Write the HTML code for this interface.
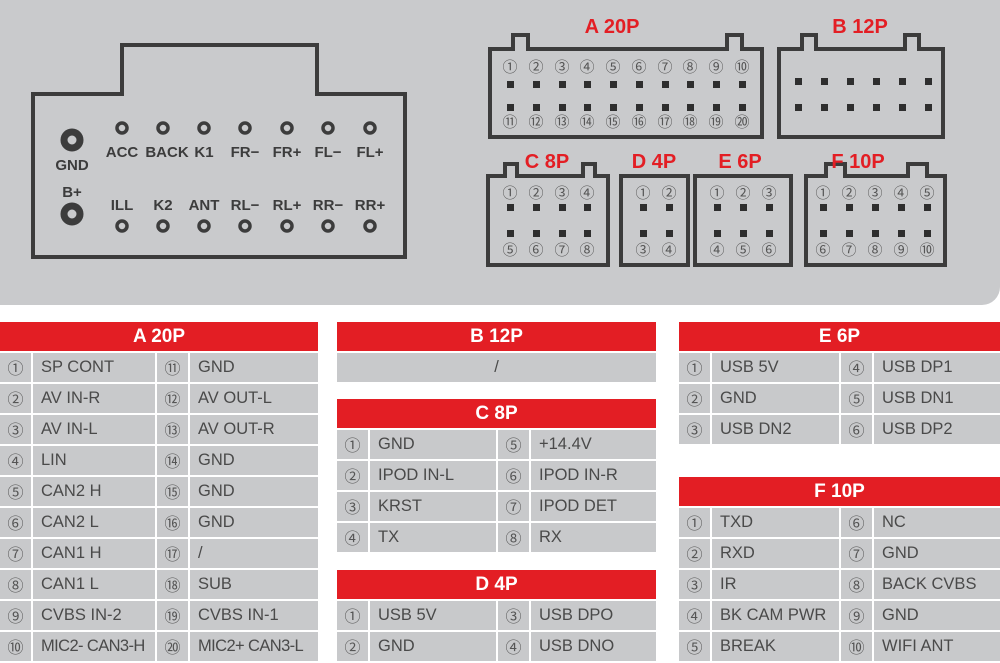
<!DOCTYPE html>
<html><head><meta charset="utf-8"><style>
body{margin:0;width:1000px;height:663px;background:#fff;position:relative;overflow:hidden;font-family:"Liberation Sans","Noto Sans CJK SC",sans-serif}
.t{position:absolute}
.h{background:#e31e24;color:#fff;font-weight:bold;font-size:19px;height:29px;line-height:30px;text-align:center}
.g{display:grid;gap:2px;margin-top:2px}
.g div{background:#c8c9cb;color:#4a4a4a;font-size:16.5px;height:29px;line-height:29px;padding-left:8px;white-space:nowrap;overflow:hidden}
.g div.n{padding-left:0;text-align:center;font-size:16px;color:#555;font-family:"Noto Sans CJK SC",sans-serif}
</style></head><body>
<svg width="1000" height="310" style="position:absolute;left:0;top:0">
<rect x="-20" y="-20" width="1020" height="325" rx="18" fill="#c9cacc"/>
<g fill="none" stroke="#3c3c3c" stroke-width="4">
<path d="M33,94 H122 V45 H317 V94 H405 V257 H33 Z"/>
<path d="M490,49 H513 V35 H528 V49 H727 V35 H742 V49 H762 V137 H490 Z"/>
<path d="M779,49 H802 V35 H816 V49 H905 V35 H919 V49 H943 V137 H779 Z"/>
<path d="M488,176 H505 V164 H517 V176 H583 V164 H595 V176 H608 V265 H488 Z"/>
<path d="M621,176 H688 V265 H621 Z"/>
<path d="M695,176 H791 V265 H695 Z"/>
<path d="M806,176 H826 V164 H845 V176 H908 V164 H927 V176 H945 V265 H806 Z"/>
</g>
<g fill="none" stroke="#3c3c3c">
<circle cx="72" cy="140" r="8" stroke-width="7"/><circle cx="72" cy="214" r="8" stroke-width="7"/>
<g stroke-width="3.5">
<circle cx="122" cy="128" r="5"/><circle cx="163" cy="128" r="5"/><circle cx="204" cy="128" r="5"/><circle cx="245" cy="128" r="5"/><circle cx="287" cy="128" r="5"/><circle cx="328" cy="128" r="5"/><circle cx="370" cy="128" r="5"/>
<circle cx="122" cy="226" r="5"/><circle cx="163" cy="226" r="5"/><circle cx="204" cy="226" r="5"/><circle cx="245" cy="226" r="5"/><circle cx="287" cy="226" r="5"/><circle cx="328" cy="226" r="5"/><circle cx="370" cy="226" r="5"/>
</g></g>
<g font-family="Liberation Sans,sans-serif" font-size="15" fill="#3c3c3c" text-anchor="middle" font-weight="bold">
<text x="72" y="170">GND</text><text x="72" y="197">B+</text>
<text x="122" y="157">ACC</text><text x="167" y="157">BACK</text><text x="204" y="157">K1</text><text x="245" y="157">FR−</text><text x="287" y="157">FR+</text><text x="328" y="157">FL−</text><text x="370" y="157">FL+</text>
<text x="122" y="210">ILL</text><text x="163" y="210">K2</text><text x="204" y="210">ANT</text><text x="245" y="210">RL−</text><text x="287" y="210">RL+</text><text x="328" y="210">RR−</text><text x="370" y="210">RR+</text>
</g>
<g font-family="Liberation Sans,sans-serif" font-size="20" fill="#e31e24" text-anchor="middle" font-weight="bold">
<text x="612" y="33">A 20P</text><text x="860" y="33">B 12P</text><text x="547" y="168">C 8P</text><text x="654" y="168">D 4P</text><text x="740" y="168">E 6P</text><text x="858" y="168">F 10P</text>
</g>
<g font-family="Noto Sans CJK SC,sans-serif" font-size="15" fill="#555" text-anchor="middle">
<text x="510" y="72">①</text><text x="536" y="72">②</text><text x="562" y="72">③</text><text x="587" y="72">④</text><text x="613" y="72">⑤</text><text x="639" y="72">⑥</text><text x="665" y="72">⑦</text><text x="690" y="72">⑧</text><text x="716" y="72">⑨</text><text x="742" y="72">⑩</text>
<text x="510" y="127">⑪</text><text x="536" y="127">⑫</text><text x="562" y="127">⑬</text><text x="587" y="127">⑭</text><text x="613" y="127">⑮</text><text x="639" y="127">⑯</text><text x="665" y="127">⑰</text><text x="690" y="127">⑱</text><text x="716" y="127">⑲</text><text x="742" y="127">⑳</text>
<text x="510" y="198">①</text><text x="536" y="198">②</text><text x="562" y="198">③</text><text x="587" y="198">④</text>
<text x="510" y="255">⑤</text><text x="536" y="255">⑥</text><text x="562" y="255">⑦</text><text x="587" y="255">⑧</text>
<text x="643" y="198">①</text><text x="669" y="198">②</text><text x="643" y="255">③</text><text x="669" y="255">④</text>
<text x="717" y="198">①</text><text x="743" y="198">②</text><text x="769" y="198">③</text><text x="717" y="255">④</text><text x="743" y="255">⑤</text><text x="769" y="255">⑥</text>
<text x="823" y="198">①</text><text x="849" y="198">②</text><text x="875" y="198">③</text><text x="901" y="198">④</text><text x="927" y="198">⑤</text>
<text x="823" y="255">⑥</text><text x="849" y="255">⑦</text><text x="875" y="255">⑧</text><text x="901" y="255">⑨</text><text x="927" y="255">⑩</text>
</g>
<g fill="#2e2e2e">
<g transform="translate(0,81)"><rect x="507" width="7" height="7"/><rect x="533" width="7" height="7"/><rect x="559" width="7" height="7"/><rect x="584" width="7" height="7"/><rect x="610" width="7" height="7"/><rect x="636" width="7" height="7"/><rect x="662" width="7" height="7"/><rect x="687" width="7" height="7"/><rect x="713" width="7" height="7"/><rect x="739" width="7" height="7"/></g>
<g transform="translate(0,104)"><rect x="507" width="7" height="7"/><rect x="533" width="7" height="7"/><rect x="559" width="7" height="7"/><rect x="584" width="7" height="7"/><rect x="610" width="7" height="7"/><rect x="636" width="7" height="7"/><rect x="662" width="7" height="7"/><rect x="687" width="7" height="7"/><rect x="713" width="7" height="7"/><rect x="739" width="7" height="7"/></g>
<g transform="translate(0,78)"><rect x="795" width="7" height="7"/><rect x="821" width="7" height="7"/><rect x="847" width="7" height="7"/><rect x="873" width="7" height="7"/><rect x="899" width="7" height="7"/><rect x="925" width="7" height="7"/></g>
<g transform="translate(0,104)"><rect x="795" width="7" height="7"/><rect x="821" width="7" height="7"/><rect x="847" width="7" height="7"/><rect x="873" width="7" height="7"/><rect x="899" width="7" height="7"/><rect x="925" width="7" height="7"/></g>
<g transform="translate(0,204)"><rect x="507" width="7" height="7"/><rect x="533" width="7" height="7"/><rect x="559" width="7" height="7"/><rect x="584" width="7" height="7"/><rect x="640" width="7" height="7"/><rect x="666" width="7" height="7"/><rect x="714" width="7" height="7"/><rect x="740" width="7" height="7"/><rect x="766" width="7" height="7"/><rect x="820" width="7" height="7"/><rect x="846" width="7" height="7"/><rect x="872" width="7" height="7"/><rect x="898" width="7" height="7"/><rect x="924" width="7" height="7"/></g>
<g transform="translate(0,230)"><rect x="507" width="7" height="7"/><rect x="533" width="7" height="7"/><rect x="559" width="7" height="7"/><rect x="584" width="7" height="7"/><rect x="640" width="7" height="7"/><rect x="666" width="7" height="7"/><rect x="714" width="7" height="7"/><rect x="740" width="7" height="7"/><rect x="766" width="7" height="7"/><rect x="820" width="7" height="7"/><rect x="846" width="7" height="7"/><rect x="872" width="7" height="7"/><rect x="898" width="7" height="7"/><rect x="924" width="7" height="7"/></g>
</g>
</svg>

<div class="t" style="left:0;top:322px;width:318px">
<div class="h">A 20P</div>
<div class="g" style="grid-template-columns:31px 122px 31px 128px">
<div class="n">①</div><div>SP CONT</div><div class="n">⑪</div><div>GND</div>
<div class="n">②</div><div>AV IN-R</div><div class="n">⑫</div><div>AV OUT-L</div>
<div class="n">③</div><div>AV IN-L</div><div class="n">⑬</div><div>AV OUT-R</div>
<div class="n">④</div><div>LIN</div><div class="n">⑭</div><div>GND</div>
<div class="n">⑤</div><div>CAN2 H</div><div class="n">⑮</div><div>GND</div>
<div class="n">⑥</div><div>CAN2 L</div><div class="n">⑯</div><div>GND</div>
<div class="n">⑦</div><div>CAN1 H</div><div class="n">⑰</div><div>/</div>
<div class="n">⑧</div><div>CAN1 L</div><div class="n">⑱</div><div>SUB</div>
<div class="n">⑨</div><div>CVBS IN-2</div><div class="n">⑲</div><div>CVBS IN-1</div>
<div class="n">⑩</div><div style="letter-spacing:-0.6px">MIC2- CAN3-H</div><div class="n">⑳</div><div style="letter-spacing:-0.6px">MIC2+ CAN3-L</div>
</div></div>

<div class="t" style="left:337px;top:322px;width:319px">
<div class="h">B 12P</div>
<div class="g" style="grid-template-columns:1fr"><div style="text-align:center;padding:0">/</div></div>
</div>

<div class="t" style="left:337px;top:399px;width:319px">
<div class="h">C 8P</div>
<div class="g" style="grid-template-columns:31px 126px 31px 125px">
<div class="n">①</div><div>GND</div><div class="n">⑤</div><div>+14.4V</div>
<div class="n">②</div><div>IPOD IN-L</div><div class="n">⑥</div><div>IPOD IN-R</div>
<div class="n">③</div><div>KRST</div><div class="n">⑦</div><div>IPOD DET</div>
<div class="n">④</div><div>TX</div><div class="n">⑧</div><div>RX</div>
</div></div>

<div class="t" style="left:337px;top:570px;width:319px">
<div class="h">D 4P</div>
<div class="g" style="grid-template-columns:31px 126px 31px 125px">
<div class="n">①</div><div>USB 5V</div><div class="n">③</div><div>USB DPO</div>
<div class="n">②</div><div>GND</div><div class="n">④</div><div>USB DNO</div>
</div></div>

<div class="t" style="left:679px;top:322px;width:321px">
<div class="h">E 6P</div>
<div class="g" style="grid-template-columns:31px 127px 31px 126px">
<div class="n">①</div><div>USB 5V</div><div class="n">④</div><div>USB DP1</div>
<div class="n">②</div><div>GND</div><div class="n">⑤</div><div>USB DN1</div>
<div class="n">③</div><div>USB DN2</div><div class="n">⑥</div><div>USB DP2</div>
</div></div>

<div class="t" style="left:679px;top:477px;width:321px">
<div class="h">F 10P</div>
<div class="g" style="grid-template-columns:31px 127px 31px 126px">
<div class="n">①</div><div>TXD</div><div class="n">⑥</div><div>NC</div>
<div class="n">②</div><div>RXD</div><div class="n">⑦</div><div>GND</div>
<div class="n">③</div><div>IR</div><div class="n">⑧</div><div>BACK CVBS</div>
<div class="n">④</div><div>BK CAM PWR</div><div class="n">⑨</div><div>GND</div>
<div class="n">⑤</div><div>BREAK</div><div class="n">⑩</div><div>WIFI ANT</div>
</div></div>
</body></html>
